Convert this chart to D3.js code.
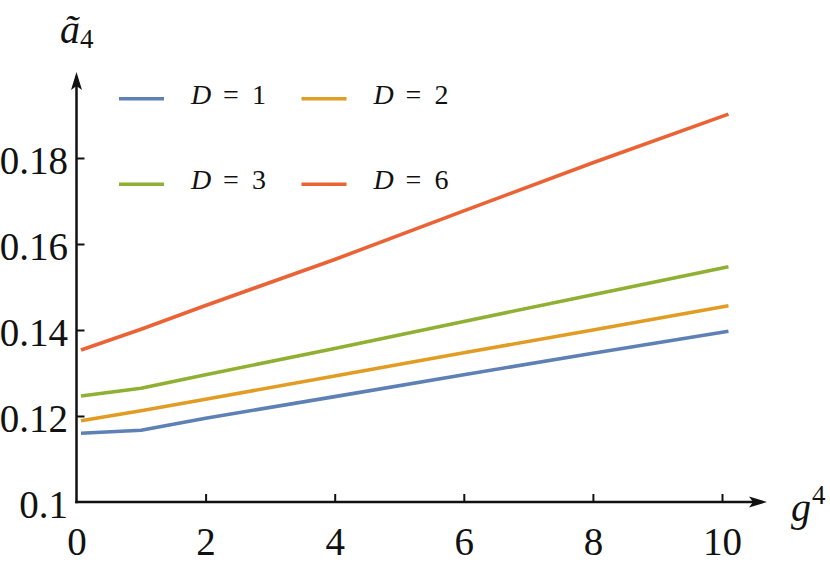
<!DOCTYPE html>
<html>
<head>
<meta charset="utf-8">
<script src="https://cdn.jsdelivr.net/npm/d3@7"></script>
</head>
<body style="margin:0">
<svg id="chart" width="830" height="570"></svg>
<script>
// ---- data ----
const gValues = [0.07, 1, 2, 4, 6, 8, 10.1];
const seriesD1 = [0.1160, 0.1167, 0.1195, 0.1245, 0.1296, 0.1346, 0.1397];
const seriesD2 = [0.1189, 0.1212, 0.1239, 0.1293, 0.1347, 0.1400, 0.14565];
const seriesD3 = [0.12465, 0.12644, 0.1296, 0.1357, 0.1420, 0.1482, 0.1547];
const seriesD6 = [0.13535, 0.14016, 0.1457, 0.1564, 0.1677, 0.1789, 0.1902];
const seriesNames = ["D = 1", "D = 2", "D = 3", "D = 6"];
const seriesLabelsNum = ["1", "2", "3", "6"];
const seriesColors = ["#5E81B5", "#E19C24", "#8FB032", "#EB6235"];
const xTicks = [0, 2, 4, 6, 8, 10];
const xTickLabels = ["0", "2", "4", "6", "8", "10"];
const yTicks = [0.1, 0.12, 0.14, 0.16, 0.18];
const yTickLabels = ["0.1", "0.12", "0.14", "0.16", "0.18"];

const allSeries = [seriesD1, seriesD2, seriesD3, seriesD6];
const FONT = '"Liberation Serif"';

const svg = d3.select("#chart");

const x = d3.scaleLinear().domain([0, 10]).range([76.5, 722]);
const y = d3.scaleLinear().domain([0.1, 0.18]).range([502, 158]);

const x0 = x(0), y0 = y(0.1);

function serif(sel, size) {
  return sel.style("font-family", FONT).attr("font-size", size).attr("fill", "#111");
}

// ---- axes ----
const xAxis = d3.axisBottom(x)
  .tickValues(xTicks)
  .tickFormat((d, i) => xTickLabels[i])
  .tickSize(-8)
  .tickPadding(25);
const gx = svg.append("g").attr("transform", `translate(0,${y0})`).call(xAxis);
gx.attr("font-family", null).attr("font-size", null);
gx.select(".domain").remove();
gx.selectAll(".tick line").attr("stroke", "#111").attr("stroke-width", 2)
  .filter(d => d === 0).remove();
serif(gx.selectAll(".tick text"), 39);

const yAxis = d3.axisLeft(y)
  .tickValues(yTicks)
  .tickFormat((d, i) => yTickLabels[i])
  .tickSize(-8)
  .tickPadding(8.5);
const gy = svg.append("g").attr("transform", `translate(${x0},0)`).call(yAxis);
gy.attr("font-family", null).attr("font-size", null);
gy.select(".domain").remove();
gy.selectAll(".tick line").attr("stroke", "#111").attr("stroke-width", 2)
  .filter(d => d === 0.1).remove();
serif(gy.selectAll(".tick text"), 39).attr("dy", "0.4em");

// axis lines with arrows
const axisColor = "#111";
const yTip = 72, xTip = 767;
svg.append("line").attr("x1", x0).attr("y1", y0 + 1.25).attr("x2", x0).attr("y2", yTip + 12)
  .attr("stroke", axisColor).attr("stroke-width", 2.5);
svg.append("path")
  .attr("d", `M${x0},${yTip} L${x0 + 5.5},${yTip + 18} L${x0},${yTip + 14} L${x0 - 5.5},${yTip + 18} Z`)
  .attr("fill", axisColor);
svg.append("line").attr("x1", x0 - 1.25).attr("y1", y0).attr("x2", xTip - 12).attr("y2", y0)
  .attr("stroke", axisColor).attr("stroke-width", 2.5);
svg.append("path")
  .attr("d", `M${xTip},${y0} L${xTip - 18},${y0 - 5.5} L${xTip - 14},${y0} L${xTip - 18},${y0 + 5.5} Z`)
  .attr("fill", axisColor);

// axis labels
const yl = serif(svg.append("text").attr("x", 60).attr("y", 43), 40).style("font-style", "italic");
yl.append("tspan").text("ã");
yl.append("tspan").attr("font-size", 27).style("font-style", "normal").attr("dy", 5).text("4");

const xl = serif(svg.append("text").attr("x", 791).attr("y", 521), 40).style("font-style", "italic");
xl.append("tspan").text("g");
xl.append("tspan").attr("font-size", 27).style("font-style", "normal").attr("dy", -17).attr("dx", 1).text("4");

// ---- lines ----
const line = d3.line().x((d, i) => x(gValues[i])).y(d => y(d));
svg.append("g").selectAll("path").data(allSeries).join("path")
  .attr("d", d => line(d))
  .attr("fill", "none")
  .attr("stroke", (d, i) => seriesColors[i])
  .attr("stroke-width", 3.6)
  .attr("stroke-linejoin", "round");

// ---- legend ----
const legendCols = [119, 301.5];
const legendRows = [98.8, 184.3];
const leg = svg.append("g").selectAll("g").data(seriesNames).join("g")
  .attr("transform", (d, i) => `translate(${legendCols[i % 2]},${legendRows[Math.floor(i / 2)]})`);
leg.append("line").attr("x1", 0).attr("x2", 45).attr("y1", 0).attr("y2", 0)
  .attr("stroke", (d, i) => seriesColors[i]).attr("stroke-width", 3.6);
serif(leg.append("text").attr("x", 72).attr("y", 5), 28).style("font-style", "italic").text("D");
serif(leg.append("text").attr("x", 104).attr("y", 5), 28).text("=");
serif(leg.append("text").attr("x", 133).attr("y", 5), 28).text((d, i) => seriesLabelsNum[i]);
</script>
</body>
</html>
